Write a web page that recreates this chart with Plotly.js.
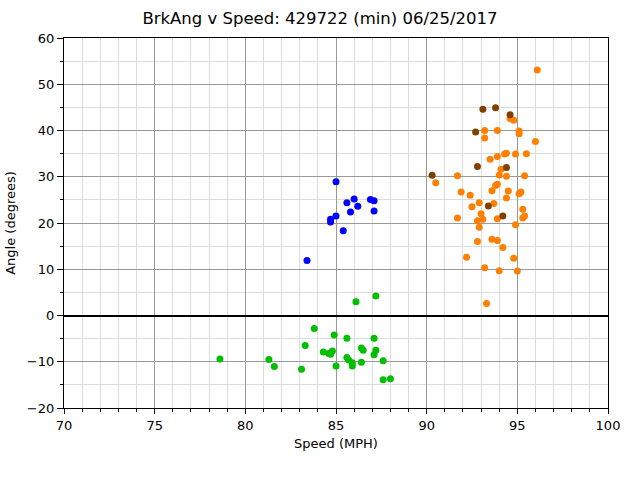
<!DOCTYPE html>
<html>
<head>
<meta charset="utf-8">
<script src="https://cdn.plot.ly/plotly-3.0.1.min.js"></script>
<style>body{margin:0;background:#fff}</style>
</head>
<body>
<div id="chart" style="width:640px;height:480px"></div>
<script>
// speed / angle readings per group
var blueSpeed = [85.0, 85.6, 86.0, 86.2, 85.8, 86.9, 87.1, 87.1, 85.0, 84.7, 84.7, 85.4, 83.4];
var blueAngle = [28.9, 24.4, 25.2, 23.6, 22.4, 25.1, 24.8, 22.6, 21.5, 20.8, 20.2, 18.3, 11.9];

var greenSpeed = [78.6, 81.3, 81.6, 83.3, 83.1, 86.1, 87.2, 83.8, 84.9, 85.6, 87.1, 84.3, 84.6, 84.8,
  84.7, 86.4, 86.5, 87.2, 87.1, 85.6, 85.7, 85.9, 85.9, 86.4, 87.6, 85.0, 87.6, 88.0];
var greenAngle = [-9.4, -9.5, -11.0, -6.5, -11.6, 3.0, 4.2, -2.8, -4.2, -4.9, -4.9, -7.9, -8.2, -7.7,
  -8.4, -7.0, -7.5, -7.5, -8.5, -9.1, -9.6, -10.2, -10.9, -10.1, -9.8, -10.9, -13.9, -13.7];

var orangeSpeed = [96.1, 94.6, 94.8, 93.2, 93.2, 93.9, 95.1, 95.1, 96.0, 93.5, 93.9, 94.3, 94.4, 94.9,
  95.5, 94.1, 90.5, 91.7, 94.0, 94.4, 95.4, 93.9, 93.8, 93.6, 94.5, 94.4, 95.2, 95.1, 91.9,
  92.4, 92.5, 92.9, 93.7, 93.0, 91.7, 92.8, 93.1, 93.9, 92.9, 95.3, 95.4, 95.3, 94.9, 92.8,
  93.6, 93.9, 94.2, 92.2, 94.8, 93.2, 94.0, 95.0, 93.3];
var orangeAngle = [53.1, 42.6, 42.2, 40.0, 38.4, 40.0, 39.9, 39.3, 37.6, 33.8, 34.4, 34.9, 35.1, 34.9,
  35.0, 31.6, 28.7, 30.2, 30.4, 30.1, 30.2, 28.4, 28.1, 27.0, 26.9, 25.4, 26.7, 26.3, 26.7,
  26.0, 23.5, 24.4, 24.2, 22.0, 21.1, 20.5, 20.8, 20.9, 19.1, 23.0, 21.5, 21.1, 19.6, 16.0,
  16.5, 16.2, 14.7, 12.6, 12.4, 10.3, 9.7, 9.6, 2.6];

var brownSpeed = [93.1, 93.8, 94.6, 92.7, 92.8, 94.4, 90.3, 93.4, 94.2];
var brownAngle = [44.6, 44.9, 43.4, 39.7, 32.2, 32.0, 30.3, 23.7, 21.5];

// y tick labels with a real minus sign
var yTickVals = [-20, -10, 0, 10, 20, 30, 40, 50, 60];
var yTickText = ['\u221220', '\u221210', '0', '10', '20', '30', '40', '50', '60'];

function pts(x, y, color) {
  return {x: x, y: y, type: 'scatter', mode: 'markers',
    marker: {color: color, size: 7}, hoverinfo: 'x+y'};
}

var data = [
  pts(blueSpeed, blueAngle, 'rgb(0,0,255)'),
  pts(greenSpeed, greenAngle, 'rgb(0,190,0)'),
  pts(orangeSpeed, orangeAngle, 'rgb(255,128,0)'),
  pts(brownSpeed, brownAngle, 'rgb(128,64,0)')
];

var font = {family: 'DejaVu Sans', size: 13, color: '#000'};

var layout = {
  width: 640, height: 480,
  margin: {l: 64, r: 32, t: 38, b: 72},
  showlegend: false,
  font: font,
  paper_bgcolor: '#fff', plot_bgcolor: '#fff',
  title: {text: 'BrkAng v Speed: 429722 (min) 06/25/2017', font: {family: 'DejaVu Sans', size: 16.5, color: '#000'},
    x: 0.5, xanchor: 'center', y: 0.962, yanchor: 'middle'},
  xaxis: {
    range: [70, 100], dtick: 5, tick0: 70,
    showgrid: true, gridcolor: '#999', gridwidth: 1,
    zeroline: false,
    showline: true, linecolor: '#000', linewidth: 1.2, mirror: true,
    ticks: 'outside', ticklen: 5, tickcolor: '#000',
    minor: {dtick: 1, showgrid: true, gridcolor: '#ddd', gridwidth: 1, ticks: 'outside', ticklen: 3, tickcolor: '#000'},
    title: {text: 'Speed (MPH)', font: font, standoff: 7}
  },
  yaxis: {
    range: [-20, 60], tickmode: 'array', tickvals: yTickVals, ticktext: yTickText,
    showgrid: true, gridcolor: '#999', gridwidth: 1,
    zeroline: true, zerolinecolor: '#000', zerolinewidth: 1.5,
    showline: true, linecolor: '#000', linewidth: 1.2, mirror: true,
    ticks: 'outside', ticklen: 6, tickcolor: '#000',
    minor: {dtick: 5, tick0: 0, showgrid: true, gridcolor: '#ddd', gridwidth: 1, ticks: 'outside', ticklen: 3, tickcolor: '#000'},
    title: {text: 'Angle (degrees)', font: font, standoff: 8}
  }
};

Plotly.newPlot('chart', data, layout, {displayModeBar: false, showLink: false});
</script>
</body>
</html>
